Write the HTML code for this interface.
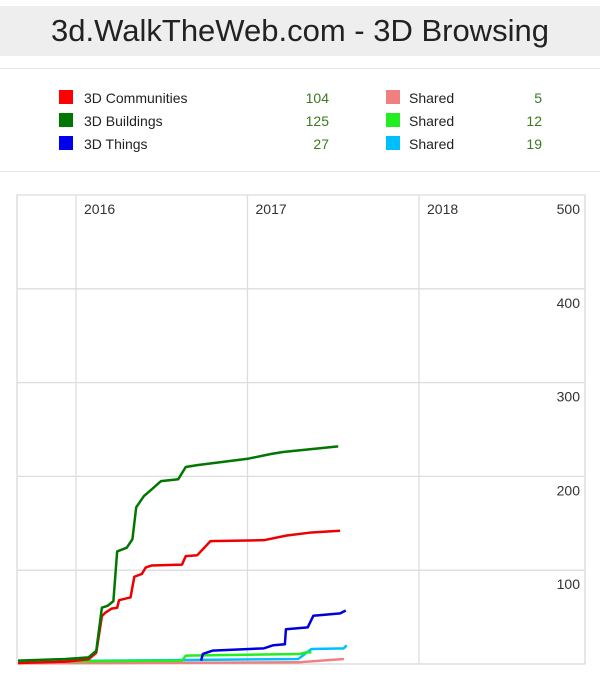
<!DOCTYPE html>
<html><head><meta charset="utf-8"><style>
body{margin:0;background:#fff;width:600px;height:682px;overflow:hidden;font-family:"Liberation Sans",sans-serif}
#hdr{position:absolute;left:0;top:6px;width:600px;height:50px;background:#eeeeee;text-align:center;font-size:31px;line-height:50px;color:#222}
.hr{position:absolute;left:0;width:600px;height:1px;background:#e6e6e6}
.sw{position:absolute;width:14px;height:14px}
.lt{position:absolute;font-size:14px;color:#222}
.lv{position:absolute;font-size:14px;color:#3a7a20;text-align:right;width:40px}
</style></head><body>
<div id="hdr">3d.WalkTheWeb.com - 3D Browsing</div>
<div class="hr" style="top:68px"></div>
<div class="hr" style="top:171px"></div>
<div>
<div class="sw" style="left:59px;top:90px;background:#f00"></div>
<div class="lt" style="left:84px;top:90px">3D Communities</div>
<div class="lv" style="left:289px;top:90px">104</div>
<div class="sw" style="left:59px;top:113px;background:#007700"></div>
<div class="lt" style="left:84px;top:113px">3D Buildings</div>
<div class="lv" style="left:289px;top:113px">125</div>
<div class="sw" style="left:59px;top:136px;background:#0000ee"></div>
<div class="lt" style="left:84px;top:136px">3D Things</div>
<div class="lv" style="left:289px;top:136px">27</div>
<div class="sw" style="left:386px;top:90px;background:#f08080"></div>
<div class="lt" style="left:409px;top:90px">Shared</div>
<div class="lv" style="left:502px;top:90px">5</div>
<div class="sw" style="left:386px;top:113px;background:#22ee22"></div>
<div class="lt" style="left:409px;top:113px">Shared</div>
<div class="lv" style="left:502px;top:113px">12</div>
<div class="sw" style="left:386px;top:136px;background:#00bfff"></div>
<div class="lt" style="left:409px;top:136px">Shared</div>
<div class="lv" style="left:502px;top:136px">19</div>
</div>
<svg id="chart" width="600" height="682" style="position:absolute;left:0;top:0"></svg>
<script>
const yTicks=[100,200,300,400,500];
const xTicks=[2016,2017,2018];
const redT=[2015.662,2015.94,2016.073,2016.118,2016.151,2016.173,2016.207,2016.24,2016.251,2016.318,2016.34,2016.384,2016.407,2016.44,2016.618,2016.64,2016.707,2016.784,2017.096,2017.229,2017.362,2017.54];
const redV=[1,2.5,5,12,51,55,59,60,68,71,93,96,103,105,106,115,116,131,132,137,140,142];
const greenT=[2015.662,2015.94,2016.073,2016.118,2016.151,2016.184,2016.218,2016.24,2016.296,2016.329,2016.351,2016.396,2016.44,2016.496,2016.596,2016.64,2016.707,2017.007,2017.14,2017.207,2017.529];
const greenV=[3.6,5.3,7.1,14,60,62,67,120,124,133,167,179,186,195,197,210,212,219,224,226,232];
const blueT=[2016.729,2016.74,2016.796,2017.096,2017.151,2017.218,2017.224,2017.351,2017.384,2017.54,2017.573];
const blueV=[3.6,10.7,14.2,16.7,20,21,37,39,51.5,54,57];
const limeT=[2015.662,2016.618,2016.64,2017.307,2017.34,2017.373];
const limeV=[2.5,3.6,8.9,10.7,12.4,12.4];
const cyanT=[2015.662,2017.296,2017.373,2017.562,2017.578];
const cyanV=[2.8,5.3,16,16.7,20];
const salmonT=[2015.662,2017.296,2017.562];
const salmonV=[0.7,1.8,5.3];

const L=17,R=585,T=195,B=664;
const X=t=>76+(t-2016)*171.5;
const Y=v=>B-v*(B-T)/500;
const svg=document.getElementById('chart');
const NS='http://www.w3.org/2000/svg';
function mk(tag,attrs){const e=document.createElementNS(NS,tag);for(const k in attrs)e.setAttribute(k,attrs[k]);svg.appendChild(e);return e;}
const frame=mk('rect',{x:L,y:T,width:R-L,height:B-T,fill:'none',stroke:'#ccc'});


yTicks.forEach(v=>{
 const g=mk('line',{x1:L,x2:R,y1:Y(v),y2:Y(v),stroke:'#ddd','stroke-width':1.3});
 
 
 const t=mk('text',{x:580,y:Y(v)+19,'text-anchor':'end','font-size':14,fill:'#333','font-family':'Liberation Sans, sans-serif'});
 t.textContent=v;
 
 
});
xTicks.forEach(y=>{
 const g=mk('line',{x1:X(y),x2:X(y),y1:T,y2:B,stroke:'#ddd','stroke-width':1.3});
 
 
 const t=mk('text',{x:X(y)+8,y:T+19,'font-size':14,fill:'#333','font-family':'Liberation Sans, sans-serif'});
 t.textContent=y;
 
 
});
function series(ts,vs,color,name){
 const p=mk('polyline',{points:ts.map((t,i)=>X(t)+','+Y(vs[i])).join(' '),fill:'none',stroke:color,'stroke-width':2.5,'stroke-linejoin':'round'});
 
 
}
series(salmonT,salmonV,'#f08080','line-shared-communities');
series(cyanT,cyanV,'#00bfff','line-shared-things');
series(limeT,limeV,'#22ee22','line-shared-buildings');
series(blueT,blueV,'#0000dd','line-3d-things');
series(redT,redV,'#ee0000','line-3d-communities');
series(greenT,greenV,'#007700','line-3d-buildings');
</script>
</body></html>
